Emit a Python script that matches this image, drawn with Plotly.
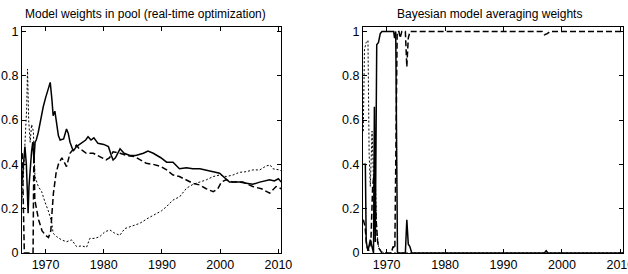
import plotly.graph_objects as go

# ---------------- data (year, weight) ----------------
pool_solid = [
    (1966.0, 0.33), (1966.2, 0.40), (1966.45, 0.48), (1966.7, 0.40), (1967.0, 0.18),
    (1967.15, 0.30), (1967.4, 0.42), (1967.6, 0.46), (1967.8, 0.50), (1968.0, 0.42),
    (1968.2, 0.50), (1968.4, 0.51), (1968.75, 0.545), (1969.0, 0.58), (1969.3, 0.61),
    (1969.6, 0.66), (1970.0, 0.70), (1970.4, 0.74), (1970.6, 0.76), (1970.8, 0.77),
    (1971.1, 0.69), (1971.3, 0.62), (1971.6, 0.64), (1971.9, 0.59), (1972.2, 0.53),
    (1972.5, 0.51), (1973.1, 0.515), (1973.6, 0.56), (1973.9, 0.54), (1974.2, 0.50),
    (1974.75, 0.46), (1975.3, 0.48), (1975.8, 0.49), (1976.4, 0.50), (1976.9, 0.51),
    (1977.3, 0.525), (1977.8, 0.51), (1978.3, 0.52), (1979.0, 0.495), (1980.0, 0.49),
    (1980.8, 0.48), (1981.3, 0.44), (1981.6, 0.42), (1982.0, 0.43), (1982.8, 0.47),
    (1983.5, 0.45), (1984.5, 0.44), (1985.5, 0.44), (1986.8, 0.45), (1987.6, 0.46),
    (1988.5, 0.45), (1989.8, 0.43), (1990.8, 0.41), (1991.9, 0.41), (1993.0, 0.38),
    (1994.2, 0.385), (1995.3, 0.38), (1996.5, 0.38), (1997.6, 0.375), (1998.8, 0.367),
    (1999.9, 0.36), (2000.5, 0.345), (2001.6, 0.32), (2002.5, 0.32), (2003.3, 0.32),
    (2004.5, 0.315), (2005.6, 0.31), (2006.8, 0.32), (2007.5, 0.325), (2008.5, 0.33),
    (2009.3, 0.325), (2010.0, 0.335), (2010.5, 0.32),
]

pool_dashed = [
    (1966.0, 0.45), (1966.35, 0.0), (1967.85, 0.0), (1968.0, 0.50), (1968.15, 0.24),
    (1968.4, 0.20), (1968.8, 0.15), (1969.4, 0.10), (1970.0, 0.08), (1970.5, 0.07),
    (1970.9, 0.10), (1971.1, 0.18), (1971.35, 0.27), (1971.8, 0.36), (1972.2, 0.40),
    (1972.8, 0.43), (1973.3, 0.40), (1973.6, 0.39), (1974.2, 0.45), (1974.75, 0.47),
    (1975.3, 0.487), (1975.8, 0.47), (1976.2, 0.465), (1977.0, 0.45), (1978.2, 0.45),
    (1979.3, 0.435), (1980.4, 0.42), (1981.0, 0.43), (1981.6, 0.457), (1982.8, 0.45),
    (1984.0, 0.44), (1985.3, 0.435), (1986.2, 0.42), (1987.3, 0.405), (1988.5, 0.40),
    (1989.8, 0.39), (1990.8, 0.375), (1991.9, 0.352), (1993.0, 0.345), (1994.2, 0.33),
    (1995.3, 0.315), (1996.5, 0.307), (1997.6, 0.29), (1998.8, 0.277), (1999.6, 0.29),
    (2000.2, 0.32), (2001.0, 0.33), (2002.2, 0.32), (2003.9, 0.32), (2005.6, 0.30),
    (2007.1, 0.29), (2008.5, 0.27), (2009.6, 0.30), (2010.5, 0.29),
]

pool_dotted = [
    (1966.0, 0.25), (1966.4, 0.45), (1966.75, 0.65), (1966.9, 0.83), (1967.1, 0.60),
    (1967.35, 0.50), (1967.6, 0.58), (1967.9, 0.55), (1968.18, 0.345), (1968.75, 0.30),
    (1969.33, 0.277), (1969.9, 0.23), (1970.47, 0.19), (1971.04, 0.14), (1971.3, 0.089),
    (1971.9, 0.074), (1972.76, 0.059), (1973.6, 0.051), (1974.5, 0.059), (1975.33, 0.029),
    (1976.2, 0.032), (1977.05, 0.026), (1977.6, 0.066), (1978.5, 0.066), (1979.33, 0.074),
    (1980.2, 0.096), (1981.05, 0.104), (1981.9, 0.089), (1982.76, 0.08), (1983.6, 0.11),
    (1984.5, 0.119), (1986.2, 0.134), (1987.6, 0.157), (1989.05, 0.179), (1989.9, 0.19),
    (1990.77, 0.209), (1991.9, 0.239), (1993.05, 0.254), (1994.2, 0.292), (1995.33, 0.31),
    (1996.5, 0.32), (1997.6, 0.33), (1998.8, 0.345), (1999.9, 0.352), (2001.06, 0.345),
    (2002.2, 0.352), (2003.3, 0.364), (2004.5, 0.367), (2005.6, 0.375), (2006.8, 0.375),
    (2007.9, 0.393), (2008.6, 0.397), (2009.05, 0.38), (2010.2, 0.375), (2010.5, 0.37),
]

bma_solid = [
    (1966.0, 0.40), (1966.35, 0.40), (1966.5, 0.05), (1966.8, 0.01), (1967.2, 0.06),
    (1967.5, 0.02), (1967.75, 0.0), (1967.9, 0.66), (1968.05, 0.05), (1968.3, 0.94),
    (1968.6, 0.95), (1968.9, 0.99), (1969.2, 1.0), (1971.2, 1.0), (1971.35, 0.97),
    (1971.55, 1.0), (1971.75, 0.5), (1971.85, 0.0), (1973.2, 0.0), (1973.45, 0.15),
    (1973.7, 0.04), (1973.95, 0.03), (1974.3, 0.0), (1997.0, 0.0), (1997.3, 0.01),
    (1997.6, 0.0), (2010.5, 0.0),
]

bma_dashed = [
    (1966.0, 0.15), (1966.3, 0.12), (1966.6, 0.03), (1966.9, 0.01), (1967.3, 0.05),
    (1967.6, 0.30), (1967.8, 0.35), (1968.0, 0.28), (1968.2, 0.15), (1968.45, 0.05),
    (1968.7, 0.02), (1969.2, 0.0), (1970.8, 0.0), (1971.1, 0.03), (1971.4, 0.02),
    (1971.65, 0.5), (1971.8, 1.0), (1972.1, 1.0), (1972.3, 0.97), (1972.6, 1.0),
    (1973.2, 1.0), (1973.45, 0.84), (1973.7, 0.97), (1974.0, 1.0), (1996.6, 1.0),
    (1997.0, 0.985), (1997.5, 0.99), (1998.0, 1.0), (2010.5, 1.0),
]

bma_dotted = [
    (1966.0, 0.55), (1966.2, 0.92), (1966.5, 0.95), (1966.8, 0.96), (1967.0, 0.45),
    (1967.2, 0.30), (1967.5, 0.55), (1967.7, 0.35), (1967.9, 0.20), (1968.1, 0.30),
    (1968.3, 0.10), (1968.6, 0.03), (1969.0, 0.01), (1969.5, 0.0), (2010.5, 0.0),
]

x_ticks = [1970, 1980, 1990, 2000, 2010]
x_tick_labels = ["1970", "1980", "1990", "2000", "2010"]
y_ticks = [0, 0.2, 0.4, 0.6, 0.8, 1]
y_tick_labels = ["0", "0.2", "0.4", "0.6", "0.8", "1"]

titles = ["Model weights in pool (real-time optimization)", "Bayesian model averaging weights"]

# ---------------- figure ----------------
W, H = 628, 274
FONT = "Liberation Sans, Arial, Helvetica, sans-serif"

fig = go.Figure()

def add(series, xa, ya, dash, width):
    xs = [p[0] for p in series]
    ys = [p[1] for p in series]
    fig.add_trace(go.Scatter(
        x=xs, y=ys, mode="lines",
        line=dict(color="black", width=width, dash=dash),
        xaxis=xa, yaxis=ya, showlegend=False, hoverinfo="skip",
    ))

add(pool_dotted, "x", "y", "2px,2px", 1.0)
add(pool_dashed, "x", "y", "6px,3px", 1.5)
add(pool_solid, "x", "y", "solid", 1.5)
add(bma_dotted, "x2", "y2", "2px,2px", 1.0)
add(bma_dashed, "x2", "y2", "6px,3px", 1.5)
add(bma_solid, "x2", "y2", "solid", 1.5)

def xax(domain, anchor):
    return dict(
        domain=domain, anchor=anchor, range=[1965.95, 2010.45],
        tickmode="array", tickvals=x_ticks, ticktext=x_tick_labels,
        ticks="inside", ticklen=4, tickwidth=1, tickcolor="black",
        mirror="allticks", showline=True, linecolor="black", linewidth=1,
        showgrid=False, zeroline=False, automargin=False, fixedrange=True,
        ticklabeloverflow="allow",
        tickfont=dict(family=FONT, size=12.5, color="black"),
    )

def yax(anchor):
    return dict(
        domain=[21 / H, 247 / H], anchor=anchor, range=[0, 1.02],
        tickmode="array", tickvals=y_ticks, ticktext=y_tick_labels,
        ticks="inside", ticklen=4, tickwidth=1, tickcolor="black",
        mirror="allticks", showline=True, linecolor="black", linewidth=1,
        showgrid=False, zeroline=False, automargin=False, fixedrange=True,
        ticklabeloverflow="allow",
        tickfont=dict(family=FONT, size=12.5, color="black"),
    )

fig.update_layout(
    width=W, height=H,
    margin=dict(l=0, r=0, t=0, b=0),
    paper_bgcolor="white", plot_bgcolor="white",
    font=dict(family=FONT, color="black"),
    xaxis=xax([22 / W, 281 / W], "y"),
    yaxis=yax("x"),
    xaxis2=xax([363 / W, 623 / W], "y2"),
    yaxis2=yax("x2"),
    annotations=[
        dict(text=titles[0], x=145 / W, y=1 - 14 / H, xref="paper", yref="paper",
             xanchor="center", yanchor="middle", showarrow=False,
             font=dict(family=FONT, size=12, color="black")),
        dict(text=titles[1], x=489 / W, y=1 - 14 / H, xref="paper", yref="paper",
             xanchor="center", yanchor="middle", showarrow=False,
             font=dict(family=FONT, size=12, color="black")),
    ],
)

fig.write_html(
    "out.html",
    config={"displayModeBar": False},
    post_script="document.body.style.margin='0';document.body.style.padding='0';",
)
